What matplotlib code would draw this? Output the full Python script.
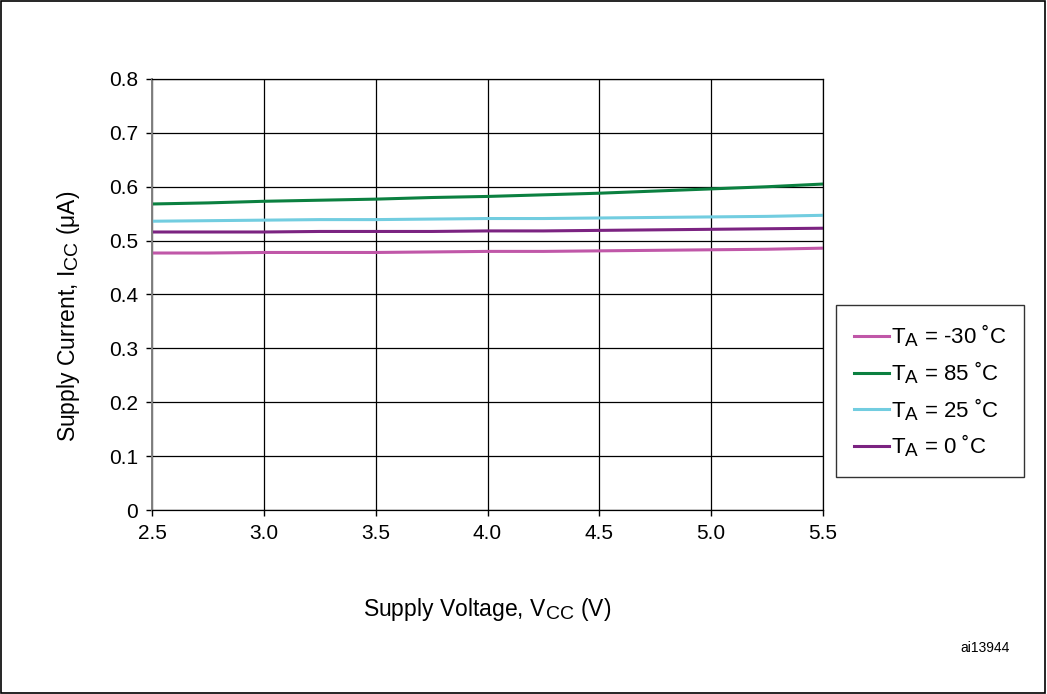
import matplotlib
matplotlib.use("Agg")
import matplotlib.pyplot as plt
import matplotlib._mathtext as mathtext_internal
from matplotlib.patches import Rectangle

plt.rcParams["font.family"] = ["Liberation Sans", "DejaVu Sans"]
# subscripts in the original are nearly full size
mathtext_internal.SHRINK_FACTOR = 0.85

vcc = [2.5, 2.75, 3.0, 3.25, 3.5, 3.75, 4.0, 4.25, 4.5, 4.75, 5.0, 5.25, 5.5]
icc_m30 = [0.477, 0.477, 0.478, 0.478, 0.478, 0.479, 0.480, 0.480, 0.481, 0.482, 0.483, 0.484, 0.486]
icc_85 = [0.568, 0.570, 0.573, 0.575, 0.577, 0.580, 0.582, 0.585, 0.588, 0.592, 0.596, 0.600, 0.605]
icc_25 = [0.536, 0.537, 0.538, 0.539, 0.539, 0.540, 0.541, 0.541, 0.542, 0.543, 0.544, 0.545, 0.547]
icc_0 = [0.516, 0.516, 0.516, 0.517, 0.517, 0.517, 0.518, 0.518, 0.519, 0.520, 0.521, 0.522, 0.523]

labels = [r"T$_\mathregular{A}$ = -30 ˚C", r"T$_\mathregular{A}$ = 85 ˚C",
          r"T$_\mathregular{A}$ = 25 ˚C", r"T$_\mathregular{A}$ = 0 ˚C"]
colors = ["#c057a8", "#0b8040", "#72cde0", "#7b2381"]

xticks = [2.5, 3.0, 3.5, 4.0, 4.5, 5.0, 5.5]
yticks = [0, 0.1, 0.2, 0.3, 0.4, 0.5, 0.6, 0.7, 0.8]
ytick_labels = ["0", "0.1", "0.2", "0.3", "0.4", "0.5", "0.6", "0.7", "0.8"]

fig = plt.figure(figsize=(10.47, 6.94), dpi=100)
ax = fig.add_axes([0.1452, 0.2651, 0.6409, 0.6211])

for y, lab, c in zip([icc_m30, icc_85, icc_25, icc_0], labels, colors):
    ax.plot(vcc, y, color=c, lw=2.2, label=lab)

ax.set_xlim(2.5, 5.5)
ax.set_ylim(0, 0.8)
ax.set_xticks(xticks)
ax.set_xticklabels([f"{t:.1f}" for t in xticks])
ax.set_yticks(yticks)
ax.set_yticklabels(ytick_labels)
ax.tick_params(labelsize=15, length=4, width=1, color="black", pad=6)
ax.grid(True, color="black", lw=0.9)
ax.set_axisbelow(True)
for s in ax.spines.values():
    s.set_color("black")
    s.set_linewidth(0.9)
ax.spines["left"].set_color("#808080")
ax.spines["left"].set_linewidth(1.4)

ax.set_ylabel(r"Supply Current, I$_\mathregular{CC}$ ($\mathregular{\mu}$A)", fontsize=16.5)
ax.yaxis.set_label_coords(-0.104, 0.45)
ax.set_xlabel(r"Supply Voltage, V$_\mathregular{CC}$ (V)", fontsize=16.5, labelpad=38)

leg = ax.legend(loc="upper left", bbox_to_anchor=(1.019, 0.4756), fontsize=16,
                frameon=True, fancybox=False, edgecolor="black", handlelength=1.6,
                handletextpad=0.1, borderpad=0.8, labelspacing=0.45, borderaxespad=0)
leg.get_frame().set_linewidth(1)

fig.text(0.941, 0.066, "ai13944", fontsize=10, ha="center", va="center")
fig.patches.append(Rectangle((0.001, 0.002), 0.997, 0.996, transform=fig.transFigure,
                             fill=False, edgecolor="black", lw=1.2))

fig.savefig("out.png", dpi=100)
